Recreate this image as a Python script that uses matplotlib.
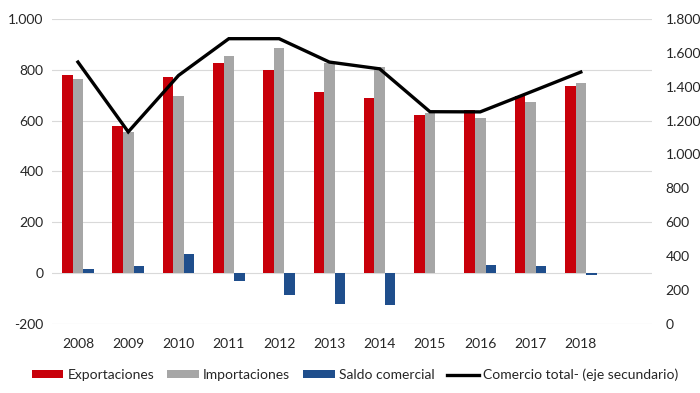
import matplotlib.pyplot as plt
import numpy as np
from matplotlib.ticker import FuncFormatter

plt.rcParams['font.family'] = ['Lato', 'DejaVu Sans']

years = ['2008', '2009', '2010', '2011', '2012', '2013', '2014', '2015', '2016', '2017', '2018']
exportaciones = [779, 580, 770, 825, 799, 713, 687, 622, 641, 697, 737]
importaciones = [762, 553, 696, 855, 884, 825, 812, 630, 610, 671, 749]
saldo = [15, 27, 73, -33, -87, -122, -124, 0, 33, 27, -6]
comercio_total = [1545, 1133, 1466, 1683, 1683, 1545, 1505, 1252, 1251, 1368, 1486]

red = '#C8000A'
gray = '#A6A6A6'
blue = '#1F4E8C'

fig = plt.figure(figsize=(7, 3.93), dpi=100)
ax = fig.add_axes([0.074, 0.176, 0.857, 0.776])
ax2 = ax.twinx()

x = np.arange(len(years))
w = 0.21
ax.bar(x - w, exportaciones, w, color=red, label='Exportaciones', zorder=3)
ax.bar(x, importaciones, w, color=gray, label='Importaciones', zorder=3)
ax.bar(x + w, saldo, w, color=blue, label='Saldo comercial', zorder=3)
ax2.plot(x, comercio_total, color='black', lw=2.4, label='Comercio total- (eje secundario)',
         solid_joinstyle='miter')

ax.set_ylim(-200, 1000)
ax.set_yticks(np.arange(-200, 1001, 200))
ax2.set_ylim(0, 1800)
ax2.set_yticks(np.arange(0, 1801, 200))
ax.set_xlim(-0.52, 11.41)
ax.set_xticks(x)
ax.set_xticklabels(years)

fmt = FuncFormatter(lambda v, p: f'{int(v):,}'.replace(',', '.'))
ax.yaxis.set_major_formatter(fmt)
ax2.yaxis.set_major_formatter(fmt)

ax.grid(axis='y', color='#D9D9D9', lw=0.8, zorder=0)
for a in (ax, ax2):
    for s in a.spines.values():
        s.set_visible(False)
    a.tick_params(length=0, labelsize=10, colors='#262626')
ax.tick_params(axis='x', pad=10)
ax.tick_params(axis='y', pad=6)
ax2.tick_params(axis='y', pad=10)

h1, l1 = ax.get_legend_handles_labels()
h2, l2 = ax2.get_legend_handles_labels()
fig.legend(h1 + h2, l1 + l2, loc='center', bbox_to_anchor=(0.507, 0.046), ncol=4,
           frameon=False, fontsize=10, handlelength=2.3, handleheight=0.55,
           columnspacing=0.9, handletextpad=0.3, labelcolor='#262626')

fig.savefig('out.png', dpi=100)
